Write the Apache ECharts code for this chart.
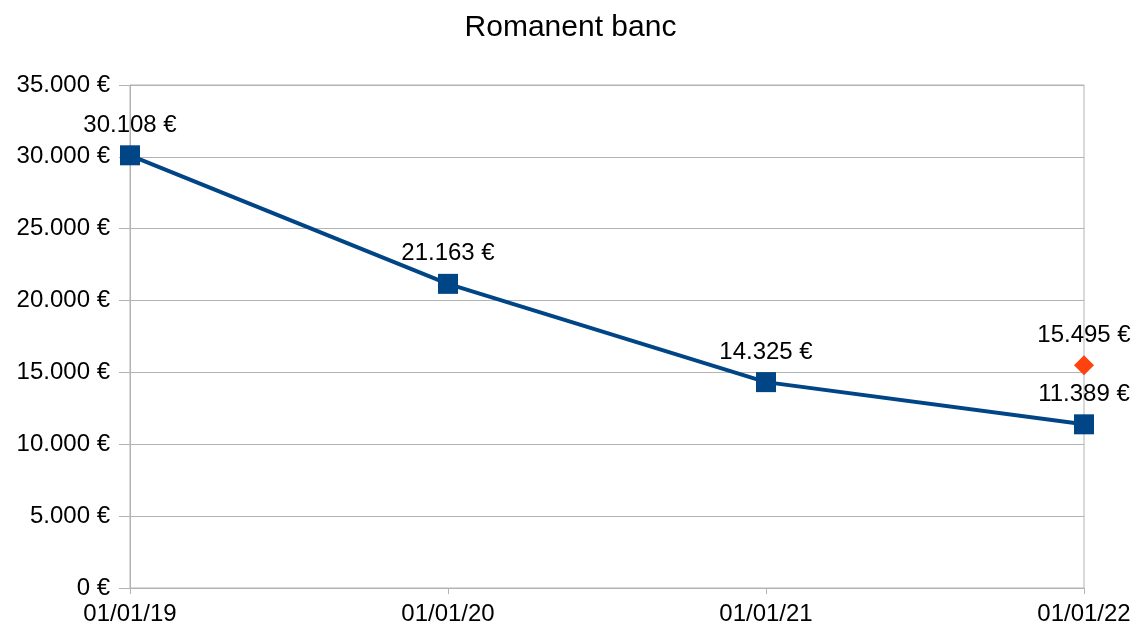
<!DOCTYPE html>
<html>
<head>
<meta charset="utf-8">
<script src="https://cdn.jsdelivr.net/npm/echarts@6/dist/echarts.min.js"></script>
<style>html,body{margin:0;padding:0;background:#fff}#c{width:1141px;height:634px}</style>
</head>
<body>
<div id="c"></div>
<script>
const categories = ['01/01/19', '01/01/20', '01/01/21', '01/01/22'];
const romanent = [30108, 21163, 14325, 11389];
const extra = [null, null, null, 15495];
const yMin = 0, yMax = 35000, yStep = 5000;

function fmt(v) {
  const s = Math.round(v).toString().replace(/\B(?=(\d{3})+(?!\d))/g, '.');
  return s + ' €';
}

const chart = echarts.init(document.getElementById('c'));
const font = 'Liberation Sans';
chart.setOption({
  animation: false,
  backgroundColor: '#ffffff',
  title: {
    text: 'Romanent banc', left: 'center', top: 8,
    textStyle: { fontFamily: font, fontSize: 30, fontWeight: 'normal', color: '#000' }
  },
  grid: { left: 130, right: 57, top: 85, bottom: 46, show: true, borderColor: '#b3b3b3', borderWidth: 1 },
  xAxis: {
    type: 'category', data: categories, boundaryGap: false,
    axisLine: { lineStyle: { color: '#b3b3b3', width: 1 } },
    axisTick: { show: true, length: 6, lineStyle: { color: '#b3b3b3' } },
    axisLabel: { fontFamily: font, fontSize: 24, color: '#000', margin: 14 },
    splitLine: { show: false }
  },
  yAxis: {
    type: 'value', min: yMin, max: yMax, interval: yStep,
    axisLine: { show: true, lineStyle: { color: '#b3b3b3', width: 1 } },
    axisTick: { show: true, length: 11, lineStyle: { color: '#b3b3b3' } },
    axisLabel: { fontFamily: font, fontSize: 24, color: '#000', margin: 20, formatter: fmt },
    splitLine: { show: true, lineStyle: { color: '#b3b3b3', width: 1 } }
  },
  series: [
    {
      type: 'line', data: romanent, symbol: 'rect', symbolSize: 20,
      itemStyle: { color: '#004586' }, lineStyle: { color: '#004586', width: 4 },
      label: { show: true, position: 'top', distance: 8, fontFamily: font, fontSize: 24, color: '#000', formatter: p => fmt(p.value) }
    },
    {
      type: 'line', data: extra, symbol: 'diamond', symbolSize: [20, 20],
      itemStyle: { color: '#ff420e' }, lineStyle: { width: 0 },
      label: { show: true, position: 'top', distance: 8, fontFamily: font, fontSize: 24, color: '#000', formatter: p => fmt(p.value) }
    }
  ]
});
</script>
</body>
</html>
